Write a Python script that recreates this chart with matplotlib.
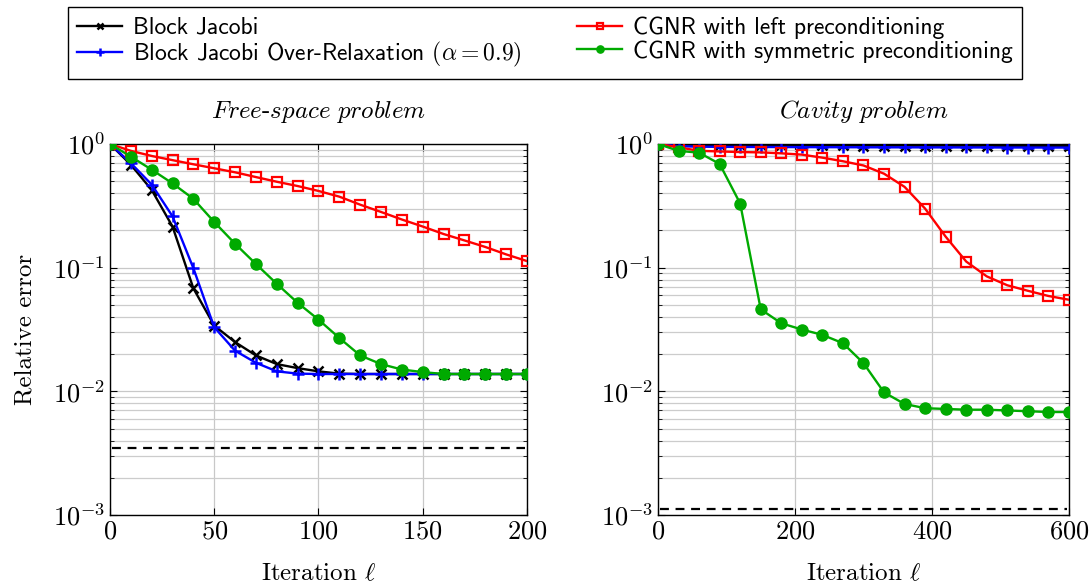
import numpy as np
import matplotlib
matplotlib.use("Agg")
import matplotlib.pyplot as plt
from matplotlib.ticker import LogLocator, NullFormatter

plt.rcParams['font.family'] = 'cmr10'
plt.rcParams['mathtext.fontset'] = 'cm'
plt.rcParams['axes.formatter.use_mathtext'] = True

# Free-space problem, iterations 0..200 step 10
it_free = list(range(0, 201, 10))
bj_free = [1.0, 0.68, 0.425, 0.215, 0.068, 0.034, 0.025, 0.0195, 0.0166, 0.0154, 0.0145,
           0.0139, 0.0138, 0.0138, 0.0138, 0.0138, 0.0138, 0.0138, 0.0138, 0.0138, 0.0138]
bjor_free = [1.0, 0.70, 0.47, 0.26, 0.099, 0.033, 0.0213, 0.017, 0.0145, 0.0139, 0.0138,
             0.0138, 0.0138, 0.0138, 0.0138, 0.0138, 0.0138, 0.0138, 0.0138, 0.0138, 0.0138]
cgnr_left_free = [1.0, 0.88, 0.80, 0.74, 0.685, 0.636, 0.59, 0.54, 0.495, 0.457, 0.417,
                  0.375, 0.323, 0.282, 0.245, 0.215, 0.187, 0.166, 0.147, 0.128, 0.113]
cgnr_sym_free = [1.0, 0.79, 0.62, 0.48, 0.36, 0.234, 0.156, 0.107, 0.074, 0.052, 0.038,
                 0.027, 0.0195, 0.0166, 0.015, 0.0143, 0.0138, 0.0138, 0.0138, 0.0138, 0.0138]
ref_free = 0.0035

# Cavity problem, iterations 0..600 step 30
it_cav = list(range(0, 601, 30))
bj_cav = [1.0, 0.99, 0.985, 0.98, 0.978, 0.976, 0.975, 0.974, 0.973, 0.972, 0.971,
          0.97, 0.969, 0.968, 0.968, 0.967, 0.967, 0.966, 0.966, 0.965, 0.965]
bjor_cav = [1.0, 0.96, 0.95, 0.948, 0.946, 0.945, 0.944, 0.943, 0.942, 0.941, 0.94,
            0.939, 0.939, 0.938, 0.938, 0.937, 0.937, 0.936, 0.936, 0.935, 0.935]
cgnr_left_cav = [1.0, 0.94, 0.88, 0.87, 0.86, 0.855, 0.84, 0.82, 0.775, 0.725, 0.67,
                 0.575, 0.45, 0.30, 0.178, 0.112, 0.085, 0.072, 0.065, 0.059, 0.055]
cgnr_sym_cav = [1.0, 0.88, 0.85, 0.69, 0.33, 0.046, 0.0355, 0.0316, 0.0286, 0.0245, 0.0169,
                0.0098, 0.0079, 0.0073, 0.0072, 0.0071, 0.0071, 0.0070, 0.0069, 0.0068, 0.0068]
ref_cav = 0.00111

labels = ['Block Jacobi', r'Block Jacobi Over-Relaxation $(\alpha = 0.9)$',
          'CGNR with left preconditioning', 'CGNR with symmetric preconditioning']

fig = plt.figure(figsize=(10.91, 5.85), dpi=100)
ax1 = fig.add_axes([0.1008, 0.1197, 0.3822, 0.6342])
ax2 = fig.add_axes([0.6031, 0.1197, 0.3767, 0.6342])


def panel(ax, x, bj, bjor, cl, cs, ref, xmax, xticks, title):
    lw = 1.7
    ax.plot(x, bj, color='black', marker='x', ms=7, mew=1.8, lw=lw, label=labels[0], zorder=3)
    ax.plot(x, bjor, color='blue', marker='+', ms=9, mew=1.8, lw=lw, label=labels[1], zorder=3)
    ax.plot(x, cl, color='red', marker='s', ms=6.5, mew=1.6, mfc='none', lw=lw, label=labels[2], zorder=3)
    ax.plot(x, cs, color='#00aa00', marker='o', ms=8, lw=lw, label=labels[3], zorder=3)
    ax.axhline(ref, color='black', ls=(0, (4, 3)), lw=1.6, xmin=0.005, xmax=0.995, zorder=2)
    ax.set_yscale('log')
    ax.set_ylim(1e-3, 1)
    ax.set_xlim(0, xmax)
    ax.set_xticks(xticks)
    ax.yaxis.set_major_locator(LogLocator(base=10, numticks=10))
    ax.yaxis.set_minor_locator(LogLocator(base=10, subs=np.arange(2, 10), numticks=10))
    ax.yaxis.set_minor_formatter(NullFormatter())
    ax.grid(True, which='major', color='#c8c8c8', lw=0.9)
    ax.grid(True, which='minor', axis='y', color='#cccccc', lw=0.9)
    ax.tick_params(which='both', direction='in', top=True, right=True, labelsize=19)
    ax.tick_params(which='major', length=5)
    ax.tick_params(which='minor', length=3)
    for s in ax.spines.values():
        s.set_linewidth(1.0)
    ax.set_xlabel(r'Iteration $\ell$', fontsize=18, labelpad=14)
    ax.set_title(title, fontsize=18, pad=19)


panel(ax1, it_free, bj_free, bjor_free, cgnr_left_free, cgnr_sym_free, ref_free,
      200, [0, 50, 100, 150, 200], r'$\mathit{Free}$-$\mathit{space\ problem}$')
panel(ax2, it_cav, bj_cav, bjor_cav, cgnr_left_cav, cgnr_sym_cav, ref_cav,
      600, [0, 200, 400, 600], r'$\mathit{Cavity\ problem}$')
ax1.set_ylabel('Relative error', fontsize=18, labelpad=12)

handles, labs = ax1.get_legend_handles_labels()
fig.legend(handles, labs, loc='upper left', bbox_to_anchor=(0.0623, 0.988), ncol=2,
           prop={'family': 'cmss10', 'size': 17}, fancybox=False, edgecolor='black',
           framealpha=1, handlelength=1.9, handletextpad=0.45, columnspacing=2.35,
           borderpad=0.4, labelspacing=0.05, markerscale=0.65, borderaxespad=0)

fig.savefig('out.png', dpi=100)
